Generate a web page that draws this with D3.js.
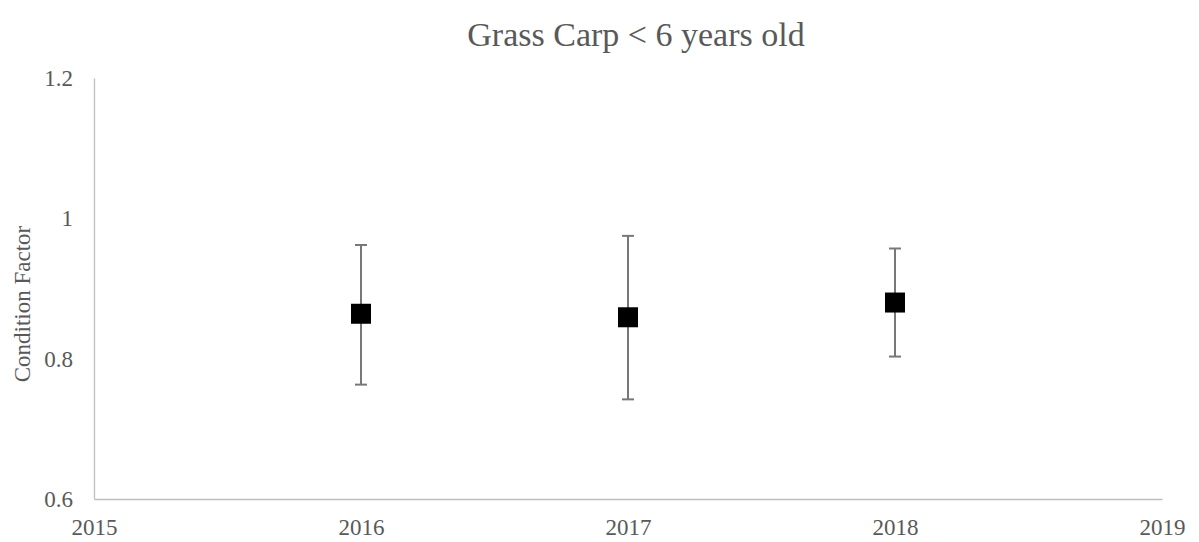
<!DOCTYPE html>
<html>
<head>
<meta charset="utf-8">
<script src="https://cdn.jsdelivr.net/npm/d3@7"></script>
<style>
  body { margin: 0; background: #fff; }
  text { font-family: "Liberation Serif", "Times New Roman", serif; fill: #595959; }
  .axis path { stroke: #bfbfbf; stroke-width: 1.3; }
  .axis text { font-size: 23px; }
</style>
</head>
<body>
<div id="chart"></div>
<script>

/// data

const years = [2016, 2017, 2018];
const means = [0.864, 0.859, 0.880];
const upper = [0.962, 0.975, 0.957];
const lower = [0.763, 0.742, 0.803];

const xTicks = [2015, 2016, 2017, 2018, 2019];
const yTicks = [0.6, 0.8, 1, 1.2];

///////////////////////////////////////////////

var width = 1199;
var height = 542;

const margin = { top: 78, right: 37, bottom: 43, left: 94 };

var svg = d3.select("#chart").append("svg")
  .attr("width", width)
  .attr("height", height);

let x = d3.scaleLinear()
  .domain([2015, 2019])
  .range([margin.left, width - margin.right]);

let y = d3.scaleLinear()
  .domain([0.6, 1.2])
  .range([height - margin.bottom, margin.top]);

// title
svg.append("text")
  .attr("x", 636)
  .attr("y", 46)
  .style("text-anchor", "middle")
  .style("font-size", "34px")
  .text("Grass Carp < 6 years old");

// y axis title
svg.append("text")
  .attr("transform", `translate(30, 304) rotate(-90)`)
  .style("text-anchor", "middle")
  .style("font-size", "23px")
  .text("Condition Factor");

// axes
svg.append("g")
  .attr("class", "axis")
  .attr("transform", `translate(0, ${height - margin.bottom})`)
  .call(d3.axisBottom(x).tickValues(xTicks).tickFormat(d3.format("d")).tickSize(0).tickPadding(20).tickSizeOuter(0));

svg.append("g")
  .attr("class", "axis")
  .attr("transform", `translate(${margin.left}, 0)`)
  .call(d3.axisLeft(y).tickValues(yTicks).tickFormat(d => d3.format("")(d)).tickSize(0).tickPadding(21).tickSizeOuter(0));

svg.selectAll(".axis .domain").attr("stroke", "#bfbfbf");
svg.selectAll(".axis text").attr("fill", "#595959");

let pts = years.map((d, i) => ({ year: d, mean: means[i], hi: upper[i], lo: lower[i] }));

// error bars
let capW = 6;
let eb = svg.append("g")
  .attr("stroke", "#787878")
  .attr("stroke-width", 2);

eb.selectAll("line.stem")
  .data(pts)
  .enter()
  .append("line")
  .attr("class", "stem")
  .attr("x1", d => x(d.year))
  .attr("x2", d => x(d.year))
  .attr("y1", d => y(d.hi))
  .attr("y2", d => y(d.lo));

eb.selectAll("line.capHi")
  .data(pts)
  .enter()
  .append("line")
  .attr("class", "capHi")
  .attr("x1", d => x(d.year) - capW)
  .attr("x2", d => x(d.year) + capW)
  .attr("y1", d => y(d.hi))
  .attr("y2", d => y(d.hi));

eb.selectAll("line.capLo")
  .data(pts)
  .enter()
  .append("line")
  .attr("class", "capLo")
  .attr("x1", d => x(d.year) - capW)
  .attr("x2", d => x(d.year) + capW)
  .attr("y1", d => y(d.lo))
  .attr("y2", d => y(d.lo));

// markers
let sz = 20;
svg.selectAll("rect.marker")
  .data(pts)
  .enter()
  .append("rect")
  .attr("class", "marker")
  .attr("x", d => x(d.year) - sz / 2)
  .attr("y", d => y(d.mean) - sz / 2)
  .attr("width", sz)
  .attr("height", sz)
  .style("fill", "#000");

</script>
</body>
</html>
